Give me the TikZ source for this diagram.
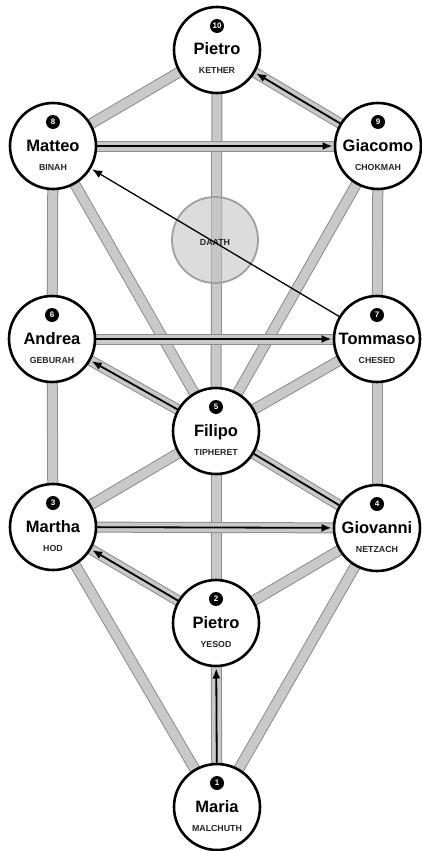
\documentclass[tikz,border=0pt]{standalone}
\usepackage{fontspec}
\setmainfont{Liberation Sans}
\usetikzlibrary{arrows.meta,calc}
\pgfdeclarelayer{bars}
\pgfsetlayers{bars,main}
\definecolor{barfill}{HTML}{C9C9C9}
\definecolor{barline}{HTML}{8C8C8C}
\definecolor{daathfill}{HTML}{C4C4C4}
\definecolor{daathline}{HTML}{A0A0A0}
\tikzset{
  sefira/.style={circle, draw=black, line width=2.6pt, fill=white, minimum size=86pt, inner sep=0pt},
  badge/.style={circle, fill=black, text=white, minimum size=14pt, inner sep=0pt, font=\bfseries\fontsize{8}{8}\selectfont},
  sname/.style={anchor=base, inner sep=0pt, font=\bfseries\fontsize{16.5}{16.5}\selectfont},
  slabel/.style={anchor=base, inner sep=0pt, font=\bfseries\fontsize{8.8}{8.8}\selectfont, text=black!85},
  bar/.style={draw=barline, line width=1pt, double=barfill, double distance=9pt},
  flow/.style={line width=1.8pt, shorten >=1.2pt, -{Latex[length=10pt,width=8pt]}},
  plainflow/.style={line width=1.8pt},
  thinflow/.style={line width=1.3pt, shorten >=1.2pt, -{Latex[length=10pt,width=8pt]}},
}
\newcommand\sefirah[6]{%
  \node[sefira] (#1) at (#2,#3) {};
  \node[badge] (#1num) at (#2,#3-24) {#4};
  \node[sname] (#1name) at (#2,#3+5) {#5};
  \node[slabel] (#1lab) at (#2,#3+24) {#6};
}
\begin{document}
\begin{tikzpicture}[x=1pt,y=-1pt]
\path[use as bounding box] (0,0) rectangle (421,851);

\sefirah{N10}{217}{50}{10}{Pietro}{KETHER}
\sefirah{N8}{53}{146}{8}{Matteo}{BINAH}
\sefirah{N9}{378}{146}{9}{Giacomo}{CHOKMAH}
\sefirah{N6}{52}{339}{6}{Andrea}{GEBURAH}
\sefirah{N7}{377}{339}{7}{Tommaso}{CHESED}
\sefirah{N5}{216}{431}{5}{Filipo}{TIPHERET}
\sefirah{N3}{53}{527}{3}{Martha}{HOD}
\sefirah{N4}{377}{528}{4}{Giovanni}{NETZACH}
\sefirah{N2}{216}{623}{2}{Pietro}{YESOD}
\sefirah{N1}{217}{807}{1}{Maria}{MALCHUTH}

\begin{pgfonlayer}{bars}
  \draw[bar] (N10.center) -- (N8.center);
  \draw[bar] (N10.center) -- (N9.center);
  \draw[bar] (N10.center) -- (N5.center);
  \draw[bar] (N8.center) -- (N9.center);
  \draw[bar] (N8.center) -- (N6.center);
  \draw[bar] (N8.center) -- (N5.center);
  \draw[bar] (N9.center) -- (N7.center);
  \draw[bar] (N9.center) -- (N5.center);
  \draw[bar] (N6.center) -- (N7.center);
  \draw[bar] (N6.center) -- (N5.center);
  \draw[bar] (N7.center) -- (N5.center);
  \draw[bar] (N6.center) -- (N3.center);
  \draw[bar] (N7.center) -- (N4.center);
  \draw[bar] (N5.center) -- (N3.center);
  \draw[bar] (N5.center) -- (N4.center);
  \draw[bar] (N5.center) -- (N2.center);
  \draw[bar] (N3.center) -- (N4.center);
  \draw[bar] (N3.center) -- (N2.center);
  \draw[bar] (N4.center) -- (N2.center);
  \draw[bar] (N3.center) -- (N1.center);
  \draw[bar] (N4.center) -- (N1.center);
  \draw[bar] (N2.center) -- (N1.center);
\end{pgfonlayer}

\node[circle, minimum size=86pt, inner sep=0pt, draw=daathline, line width=1.8pt, fill=daathfill, fill opacity=0.6, text opacity=1] (DA) at (215,240) {};
\node[anchor=base, inner sep=0pt, font=\bfseries\fontsize{8.8}{8.8}\selectfont, text=black!85] (DAlab) at (215,245) {DAATH};

\draw[flow] (N8) -- (N9);
\draw[flow] (N9) -- (N10);
\draw[flow] (N6) -- (N7);
\draw[flow] (N5) -- (N6);
\draw[plainflow] (N4) -- (N5);
\draw[flow] (N3) -- (N4);
\draw[flow] (N2) -- (N3);
\draw[flow] (N1) -- (N2);
\draw[thinflow] (N7) -- (N8);
\end{tikzpicture}
\end{document}
